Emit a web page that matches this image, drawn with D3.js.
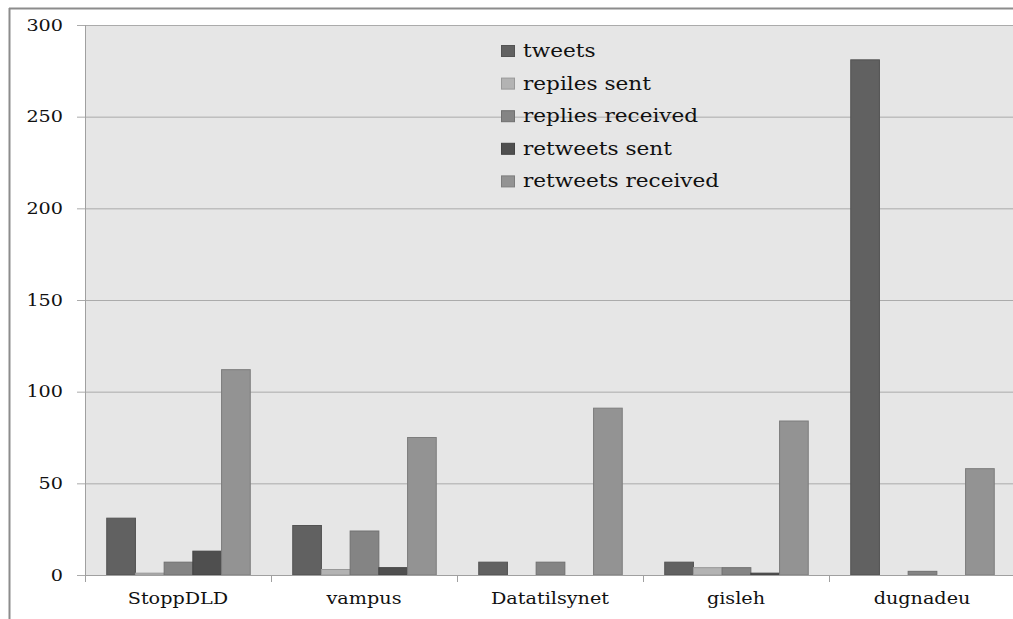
<!DOCTYPE html>
<html>
<head>
<meta charset="utf-8">
<script src="https://cdn.jsdelivr.net/npm/d3@7"></script>
<style>
  html, body { margin: 0; padding: 0; background: #fff; }
  svg { display: block; }
  text { font-family: "DejaVu Serif", serif; fill: #111; }
</style>
</head>
<body>
<svg id="chart" width="1013" height="619"></svg>
<script>
// Twitter activity per account
const accounts = ["StoppDLD", "vampus", "Datatilsynet", "gisleh", "dugnadeu"];
const seriesNames = ["tweets", "repiles sent", "replies received", "retweets sent", "retweets received"];
const tweets = [31, 27, 7, 7, 281];
const repliesSent = [1, 3, 0, 4, 0];
const repliesReceived = [7, 24, 7, 4, 2];
const retweetsSent = [13, 4, 0, 1, 0];
const retweetsReceived = [112, 75, 91, 84, 58];
const yTicks = [0, 50, 100, 150, 200, 250, 300];
const seriesColors = ["#616161", "#b3b3b3", "#848484", "#4f4f4f", "#939393"];

const seriesValues = [tweets, repliesSent, repliesReceived, retweetsSent, retweetsReceived];
const rows = accounts.map((a, i) => ({ account: a, values: seriesValues.map(s => s[i]) }));

const svg = d3.select("#chart");
const W = 1013, H = 619;
const plot = { left: 85, right: 1015, top: 25, bottom: 575 };
const sx = 1.2; // horizontal stretch of the lettering

// outer frame (left and top edges)
svg.append("line").attr("x1", 9).attr("x2", W).attr("y1", 8.5).attr("y2", 8.5)
  .attr("stroke", "#8c8c8c").attr("stroke-width", 2);
svg.append("line").attr("x1", 9.5).attr("x2", 9.5).attr("y1", 8).attr("y2", H)
  .attr("stroke", "#8c8c8c").attr("stroke-width", 2);

const x0 = d3.scaleBand().domain(accounts).range([plot.left, plot.right]).paddingInner(0).paddingOuter(0);
const x1 = d3.scaleBand().domain(d3.range(seriesNames.length))
  .range([0, x0.bandwidth()]).paddingOuter(0.74).paddingInner(0);
const y = d3.scaleLinear().domain([0, 300]).range([plot.bottom, plot.top]);

// plot background
svg.append("rect").attr("x", plot.left).attr("y", plot.top)
  .attr("width", plot.right - plot.left).attr("height", plot.bottom - plot.top)
  .attr("fill", "#e6e6e6");

// horizontal gridlines with left tick stubs
const yAxis = d3.axisLeft(y).tickValues(yTicks)
  .tickSize(-(plot.right - plot.left + 8)).tickFormat("");
svg.append("g").attr("transform", `translate(${plot.left},0)`).call(yAxis)
  .call(g => g.select(".domain").remove())
  .call(g => g.selectAll(".tick line").attr("x1", -8).attr("x2", plot.right - plot.left)
    .attr("stroke", "#ababab").attr("stroke-width", 1));

// y tick labels
svg.append("g").selectAll("text").data(yTicks).join("text")
  .attr("transform", d => `translate(63,${y(d) + 5.5}) scale(${sx},1)`)
  .attr("text-anchor", "end").attr("font-size", 16).text(d => d);

// y axis line
svg.append("line").attr("x1", plot.left + 0.5).attr("x2", plot.left + 0.5)
  .attr("y1", plot.top).attr("y2", plot.bottom + 7).attr("stroke", "#a0a0a0");

// bars
const groups = svg.append("g").selectAll("g").data(rows).join("g")
  .attr("transform", d => `translate(${x0(d.account)},0)`);
groups.selectAll("rect").data(d => d.values.map((v, i) => ({ v, i }))).join("rect")
  .attr("x", d => x1(d.i) + 0.5)
  .attr("y", d => y(d.v))
  .attr("width", x1.bandwidth())
  .attr("height", d => Math.max(0, y(0) - y(d.v)))
  .attr("fill", d => seriesColors[d.i])
  .attr("stroke", d => d3.color(seriesColors[d.i]).darker(0.45))
  .attr("stroke-width", 1)
  .attr("display", d => d.v > 0 ? null : "none");

// x axis baseline and ticks
const xAxis = d3.axisBottom(x0).tickSize(0).tickFormat("");
svg.append("g").attr("transform", `translate(0,${plot.bottom + 0.5})`).call(xAxis)
  .call(g => g.select(".domain").attr("stroke", "#a0a0a0").attr("d", `M${plot.left},0H${plot.right}`));
svg.append("g").selectAll("line").data(accounts).join("line")
  .attr("x1", d => x0(d) + 0.5).attr("x2", d => x0(d) + 0.5)
  .attr("y1", plot.bottom).attr("y2", plot.bottom + 7)
  .attr("stroke", "#a0a0a0");

// category labels
svg.append("g").selectAll("text").data(accounts).join("text")
  .attr("transform", d => `translate(${x0(d) + x0.bandwidth() / 2},${604}) scale(${sx},1)`)
  .attr("text-anchor", "middle").attr("font-size", 16).text(d => d);

// legend
const legend = svg.append("g").selectAll("g").data(seriesNames).join("g")
  .attr("transform", (d, i) => `translate(501,${51 + i * 32.6})`);
legend.append("rect").attr("x", 0.5).attr("y", -5.5).attr("width", 13).attr("height", 11)
  .attr("fill", (d, i) => seriesColors[i])
  .attr("stroke", (d, i) => d3.color(seriesColors[i]).darker(0.45));
legend.append("text")
  .attr("transform", `translate(22,6) scale(${sx},1)`)
  .attr("font-size", 18).text(d => d);
</script>
</body>
</html>
